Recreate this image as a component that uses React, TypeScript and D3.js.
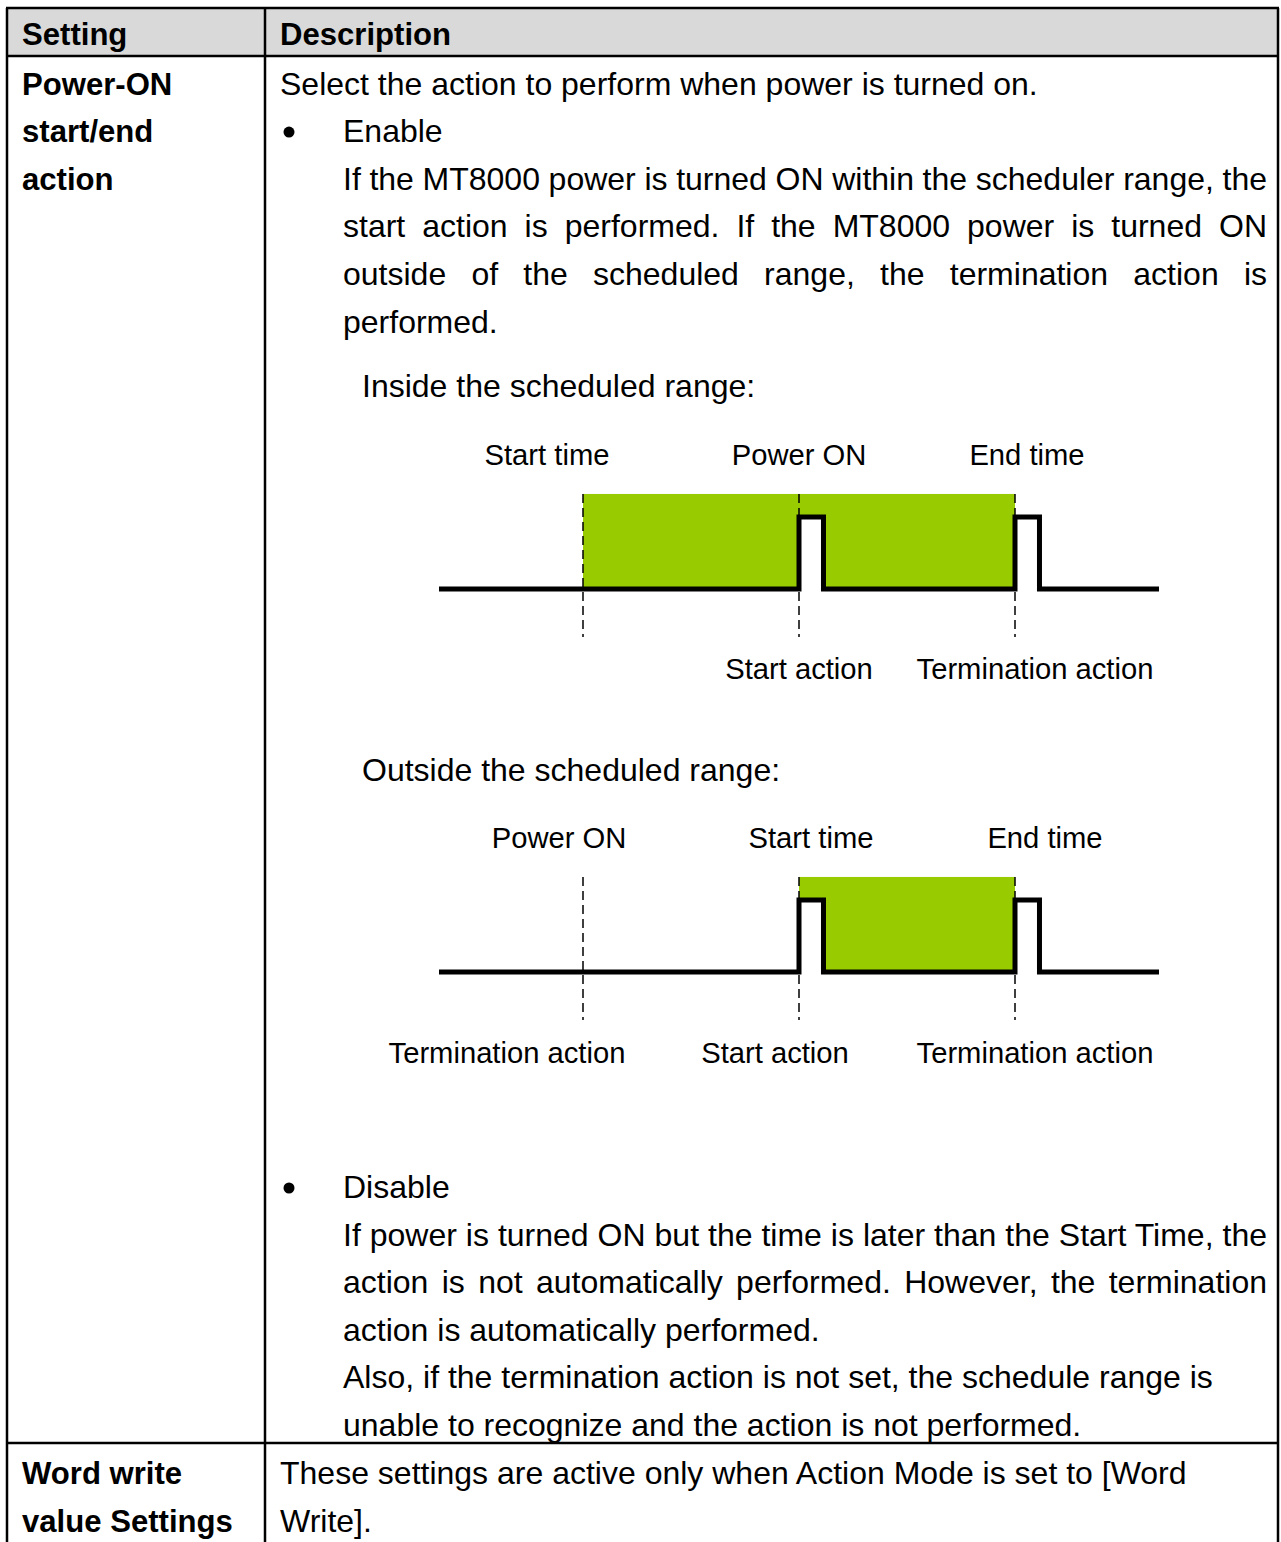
import React, { useEffect, useRef } from 'react';
import * as d3 from 'd3';

// Table text
const headerLabels = ['Setting', 'Description'];
const powerOnSetting = ['Power-ON', 'start/end', 'action'];
const wordWriteSetting = ['Word write', 'value Settings'];
const introText = 'Select the action to perform when power is turned on.';
const enableTitle = 'Enable';
const enableLines = [
  'If the MT8000 power is turned ON within the scheduler range, the',
  'start action is performed. If the MT8000 power is turned ON',
  'outside of the scheduled range, the termination action is',
  'performed.',
];
const enableJustify = [true, true, true, false];
const disableTitle = 'Disable';
const disableLines = [
  'If power is turned ON but the time is later than the Start Time, the',
  'action is not automatically performed. However, the termination',
  'action is automatically performed.',
  'Also, if the termination action is not set, the schedule range is',
  'unable to recognize and the action is not performed.',
];
const disableJustify = [true, true, false, false, false];
const wordWriteLines = ['These settings are active only when Action Mode is set to [Word', 'Write].'];
const insideCaption = 'Inside the scheduled range:';
const outsideCaption = 'Outside the scheduled range:';

// Timing diagrams, time in arbitrary units
const timeSpan = [0, 10];
const pulseWidth = 0.34;
const pulseLevel = 1;
const rangeLevel = 1.32;

interface TimingEvent {
  label: string;
  t: number;
  pulse: boolean;
  action: string;
}

const insideEvents: TimingEvent[] = [
  { label: 'Start time', t: 2, pulse: false, action: '' },
  { label: 'Power ON', t: 5, pulse: true, action: 'Start action' },
  { label: 'End time', t: 8, pulse: true, action: 'Termination action' },
];
const insideRange = [2, 8];

const outsideEvents: TimingEvent[] = [
  { label: 'Power ON', t: 2, pulse: false, action: 'Termination action' },
  { label: 'Start time', t: 5, pulse: true, action: 'Start action' },
  { label: 'End time', t: 8, pulse: true, action: 'Termination action' },
];
const outsideRange = [5, 8];

const FONT = '"Liberation Sans", Arial, sans-serif';
const W = 1281;
const H = 1542;
const BODY = 32;
const BOLD = 31.1;
const LABEL = 29.2;

interface DiagramProps {
  events: TimingEvent[];
  range: number[];
  baseY: number;
  topLabelY: number;
  bottomLabelY: number;
  topShift: number[];
  bottomShift: number[];
}

const TimingDiagram = ({ events, range, baseY, topLabelY, bottomLabelY, topShift, bottomShift }: DiagramProps) => {
  const x = d3.scaleLinear().domain(timeSpan).range([439, 1159]);
  const y = d3.scaleLinear().domain([0, pulseLevel]).range([baseY, baseY - 72]);

  // build the square-wave signal
  const pts: [number, number][] = [[timeSpan[0], 0]];
  events.filter(e => e.pulse).forEach(e => {
    pts.push([e.t, 0], [e.t, pulseLevel], [e.t + pulseWidth, pulseLevel], [e.t + pulseWidth, 0]);
  });
  pts.push([timeSpan[1], 0]);
  const line = d3.line<[number, number]>().x(d => x(d[0])).y(d => y(d[1]));

  return (
    <g>
      <rect
        x={x(range[0])}
        y={y(rangeLevel)}
        width={x(range[1]) - x(range[0])}
        height={y(0) - y(rangeLevel)}
        fill="#99cc00"
      />
      {events.filter(e => e.pulse).map((e, i) => (
        <rect
          key={'p' + i}
          x={x(e.t)}
          y={y(pulseLevel)}
          width={x(e.t + pulseWidth) - x(e.t)}
          height={y(0) - y(pulseLevel)}
          fill="#fff"
        />
      ))}
      {events.map((e, i) => (
        <line
          key={'d' + i}
          x1={x(e.t)}
          x2={x(e.t)}
          y1={y(rangeLevel)}
          y2={baseY + 48}
          stroke="#000"
          strokeWidth={1.5}
          strokeDasharray="9,5"
        />
      ))}
      <path d={line(pts) || ''} fill="none" stroke="#000" strokeWidth={5} strokeLinejoin="miter" />
      {events.map((e, i) => (
        <text key={'t' + i} x={x(e.t) + topShift[i]} y={topLabelY} textAnchor="middle" fontSize={LABEL}>
          {e.label}
        </text>
      ))}
      {events.map((e, i) =>
        e.action ? (
          <text key={'b' + i} x={x(e.t) + bottomShift[i]} y={bottomLabelY} textAnchor="middle" fontSize={LABEL}>
            {e.action}
          </text>
        ) : null
      )}
    </g>
  );
};

const App = () => {
  const svgRef = useRef<SVGSVGElement>(null);

  useEffect(() => {
    // justify paragraph lines by spreading the spaces
    d3.select(svgRef.current)
      .selectAll<SVGTextElement, unknown>('text.justify')
      .each(function () {
        const el = this;
        el.style.wordSpacing = '0px';
        const target = +(el.getAttribute('data-right') || 0) - +(el.getAttribute('x') || 0);
        const natural = el.getComputedTextLength();
        const spaces = (el.textContent || '').split(' ').length - 1;
        if (spaces > 0) el.style.wordSpacing = `${(target - natural) / spaces}px`;
      });
  }, []);

  const lineGap = 47.6;
  const firstBase = 94.5;
  const colX = 265;
  const rightX = 1278;
  const rowDivY = 1443;
  const textX = 280;
  const paraX = 343;
  const justifyRight = 1267;

  const disableBase = 1198;

  return (
    <svg
      ref={svgRef}
      width={W}
      height={H}
      style={{ position: 'absolute', left: 0, top: 0, display: 'block', background: '#fff' }}
      fontFamily={FONT}
      fill="#000"
    >
      <rect x={0} y={0} width={W} height={H} fill="#fff" />
      {/* header */}
      <rect x={7} y={8} width={rightX - 7} height={48} fill="#d9d9d9" />
      <text x={22} y={45} fontSize={BOLD} fontWeight="bold">{headerLabels[0]}</text>
      <text x={textX} y={45} fontSize={BOLD} fontWeight="bold">{headerLabels[1]}</text>

      {/* setting column */}
      {powerOnSetting.map((s, i) => (
        <text key={'s' + i} x={22} y={firstBase + i * lineGap} fontSize={BOLD} fontWeight="bold">{s}</text>
      ))}
      {wordWriteSetting.map((s, i) => (
        <text key={'w' + i} x={22} y={1484 + i * lineGap} fontSize={BOLD} fontWeight="bold">{s}</text>
      ))}

      {/* description column */}
      <text x={textX} y={firstBase} fontSize={BODY}>{introText}</text>
      <circle cx={289} cy={firstBase + lineGap - 10} r={5.5} />
      <text x={paraX} y={firstBase + lineGap} fontSize={BODY}>{enableTitle}</text>
      {enableLines.map((l, i) => (
        <text
          key={'e' + i}
          className={enableJustify[i] ? 'justify' : undefined}
          data-right={justifyRight}
          x={paraX}
          y={firstBase + (i + 2) * lineGap}
          fontSize={BODY}
        >
          {l}
        </text>
      ))}
      <text x={362} y={397} fontSize={BODY}>{insideCaption}</text>
      <TimingDiagram
        events={insideEvents}
        range={insideRange}
        baseY={589}
        topLabelY={465}
        bottomLabelY={679}
        topShift={[-36, 0, 12]}
        bottomShift={[0, 0, 20]}
      />
      <text x={362} y={781} fontSize={BODY}>{outsideCaption}</text>
      <TimingDiagram
        events={outsideEvents}
        range={outsideRange}
        baseY={972}
        topLabelY={848}
        bottomLabelY={1063}
        topShift={[-24, 12, 30]}
        bottomShift={[-76, -24, 20]}
      />

      <circle cx={289} cy={disableBase - 10} r={5.5} />
      <text x={paraX} y={disableBase} fontSize={BODY}>{disableTitle}</text>
      {disableLines.map((l, i) => (
        <text
          key={'dl' + i}
          className={disableJustify[i] ? 'justify' : undefined}
          data-right={justifyRight}
          x={paraX}
          y={disableBase + (i + 1) * lineGap}
          fontSize={BODY}
        >
          {l}
        </text>
      ))}
      {wordWriteLines.map((l, i) => (
        <text key={'ww' + i} x={textX} y={1484 + i * lineGap} fontSize={BODY}>{l}</text>
      ))}

      {/* grid lines */}
      <g stroke="#000" strokeWidth={2.5}>
        <line x1={6} x2={rightX + 1} y1={8} y2={8} />
        <line x1={6} x2={rightX + 1} y1={56} y2={56} />
        <line x1={6} x2={rightX + 1} y1={rowDivY} y2={rowDivY} />
        <line x1={7} x2={7} y1={8} y2={H} />
        <line x1={colX} x2={colX} y1={8} y2={H} />
        <line x1={rightX} x2={rightX} y1={8} y2={H} />
      </g>
    </svg>
  );
};

export default App;
